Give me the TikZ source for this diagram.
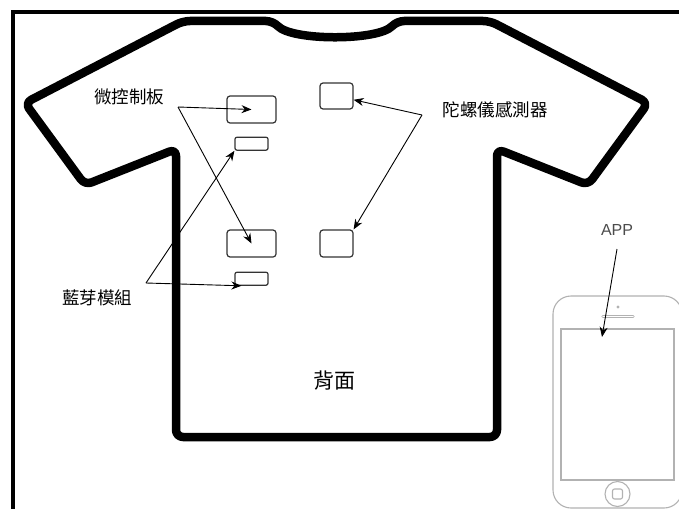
\documentclass[tikz,border=0pt]{standalone}
\usepackage{fontspec}
\setmainfont{Liberation Sans}
\newfontfamily\zh{Noto Sans CJK TC}
\usetikzlibrary{positioning,arrows.meta,calc}

\begin{document}
\begin{tikzpicture}[
      x=1pt, y=-1pt,
      frame/.style={line width=4pt},
      shirt/.style={line width=8.5pt, rounded corners=7pt, line join=round},
      board/.style={draw=black!80, line width=1.2pt, rounded corners=3pt,
                    minimum width=49pt, minimum height=27pt, inner sep=0pt},
      btmod/.style={board, minimum width=33pt, minimum height=13pt, rounded corners=2pt},
      gyro/.style={board, minimum width=33pt, minimum height=26pt},
      lbl/.style={font=\zh\fontsize{17.5}{18}\selectfont, inner sep=0pt},
      arr/.style={-{Stealth[length=10pt,width=8pt]}, line width=0.9pt},
      phone/.style={draw=black!30, line width=1.1pt},
    ]
    \useasboundingbox (0,0) rectangle (679,508);
    \fill[white] (0,0) rectangle (679,508);
    \draw[frame] (12.5,512) -- (12.5,12.5) -- (684,12.5);

    % shirt outline
    \draw[shirt] (183,21) -- (273,21) .. controls (292,41) and (378,41) .. (397,21)
      -- (490,21) -- (648,103) -- (588,185) -- (497,149) -- (497,437)
      -- (176,437) -- (176,149) -- (85,185) -- (25,103) -- cycle;

    \node[board] (mcuA) at (251.5,109.5) {};
    \node[btmod, below=13pt of mcuA] (btA) {};
    \node[board] (mcuB) at (251.5,243.5) {};
    \node[btmod, below=14pt of mcuB] (btB) {};
    \node[gyro] (gyroA) at (336.5,96) {};
    \node[gyro, minimum height=27pt] (gyroB) at (336.5,243.5) {};

    \node[lbl] (mcuLbl) at (129,97) {微控制板};
    \node[lbl] (btLbl) at (97,298) {藍芽模組};
    \node[lbl] (gyroLbl) at (495,110) {陀螺儀感測器};
    \node[font=\zh\fontsize{21}{22}\selectfont, inner sep=0pt] (back) at (334,381) {背面};

    \coordinate (mcuHub) at (178,107);
    \coordinate (btHub) at (146,283);
    \coordinate (gyroHub) at (422,115);
    \draw[arr] (mcuHub) -- (mcuA.center);
    \draw[arr] (mcuHub) -- (mcuB.center);
    \draw[arr] (btHub) -- (btA.south west);
    \draw[arr] (btHub) -- ($(btB.south west)+(7,0)$);
    \draw[arr] (gyroHub) -- (gyroA);
    \draw[arr] (gyroHub) -- (gyroB.north east);

    % phone
    \node[phone, rounded corners=18pt, minimum width=129pt, minimum height=212pt,
          inner sep=0pt] (body) at (617.5,402) {};
    \node[phone, minimum width=113pt, minimum height=151pt, inner sep=0pt] (screen)
      at (617.5,404.5) {};
    \node[phone, circle, minimum size=25pt, inner sep=0pt] (home) at (617.5,494) {};
    \node[phone, rounded corners=2pt, minimum size=10pt, inner sep=0pt] at (home) {};
    \draw[phone, line width=3.2pt, line cap=round] (603,316.5) -- (633,316.5);
    \draw[white, line width=1.2pt, line cap=round] (603,316.5) -- (633,316.5);
    \fill[black!30] (618,307) circle (1.6pt);

    \node[font=\fontsize{16}{17}\selectfont, text=black!70, inner sep=0pt] (app)
      at (617,230) {APP};
    \coordinate (appTip) at (602,337);
    \draw[arr] (617,249) -- (appTip);
  \end{tikzpicture}
\end{document}
